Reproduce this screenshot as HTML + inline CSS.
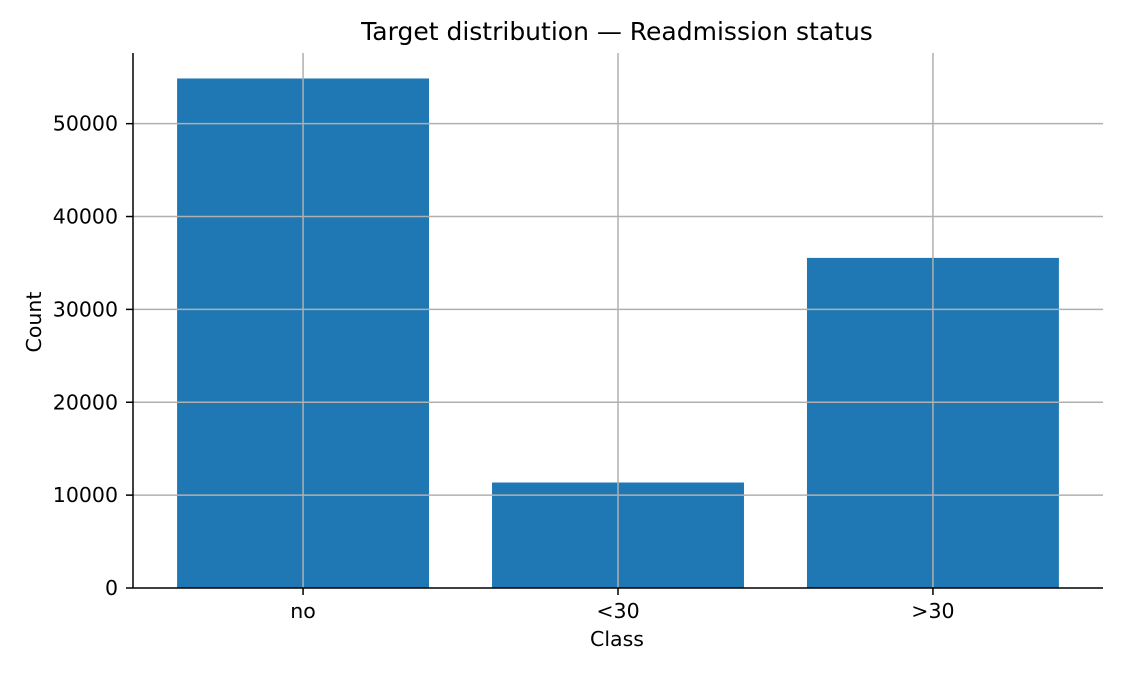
<!DOCTYPE html>
<html><head><meta charset="utf-8"><style>
body{margin:0;background:#fff;}
svg{display:block;font-family:"DejaVu Sans","Liberation Sans",sans-serif;}
</style></head><body>
<svg id="chart" width="1125" height="675" viewBox="0 0 1125 675">
<rect width="1125" height="675" fill="#fff"/>
<g id="bars"></g>
<g id="grid"></g>
<g id="axes"></g>
<text x="617" y="40" text-anchor="middle" font-size="25" fill="#000">Target distribution — Readmission status</text>
<text x="617" y="646" text-anchor="middle" font-size="20.5" fill="#000">Class</text>
<text x="41" y="322" text-anchor="middle" font-size="20.5" fill="#000" transform="rotate(-90 41 322)">Count</text>
</svg>
<script>
const categories = ["no", "<30", ">30"];
const counts = [54864, 11357, 35545];
const yTicks = [0, 10000, 20000, 30000, 40000, 50000];

const L = 133, R = 1103, B = 588, T = 53;
const yMax = Math.max(...counts) * 1.05;
const xMin = -0.54, xMax = categories.length - 1 + 0.54;
const xs = i => L + (i - xMin) / (xMax - xMin) * (R - L);
const ys = v => B - v / yMax * (B - T);
const bw = 0.8 * (xs(1) - xs(0));
const NS = "http://www.w3.org/2000/svg";
function mk(tag, attrs, parent) {
  const e = document.createElementNS(NS, tag);
  for (const k in attrs) e.setAttribute(k, attrs[k]);
  parent.appendChild(e);
  return e;
}
const gb = document.getElementById("bars"), gg = document.getElementById("grid"), ga = document.getElementById("axes");
counts.forEach((v, i) => {
  const r = mk("rect", {x: xs(i) - bw / 2, y: ys(v), width: bw, height: B - ys(v), fill: "#1f77b4"}, gb);
  
  
});
yTicks.forEach(t => {
  const y = ys(t);
  if (t > 0) {
    const l = mk("line", {x1: L, x2: R, y1: y, y2: y, stroke: "#b0b0b0", "stroke-width": 1.5}, gg);
    
    
  }
  const tk = mk("line", {x1: L - 7, x2: L, y1: y, y2: y, stroke: "#000", "stroke-width": 1.5}, ga);
  
  
  const tx = mk("text", {x: L - 15, y: y + 7, "text-anchor": "end", "font-size": 20.5, fill: "#000"}, ga);
  tx.textContent = t;
  
  
});
categories.forEach((c, i) => {
  const x = xs(i);
  const l = mk("line", {x1: x, x2: x, y1: T, y2: B, stroke: "#b0b0b0", "stroke-width": 1.5}, gg);
  
  
  const tk = mk("line", {x1: x, x2: x, y1: B, y2: B + 7, stroke: "#000", "stroke-width": 1.5}, ga);
  
  
  const tx = mk("text", {x: x, y: B + 30, "text-anchor": "middle", "font-size": 20.5, fill: "#000"}, ga);
  tx.textContent = c;
  
  
});
const sl = mk("line", {x1: L, x2: L, y1: T, y2: B, stroke: "#000", "stroke-width": 1.5}, ga);


const sb = mk("line", {x1: L, x2: R, y1: B, y2: B, stroke: "#000", "stroke-width": 1.5}, ga);


</script>
</body></html>
